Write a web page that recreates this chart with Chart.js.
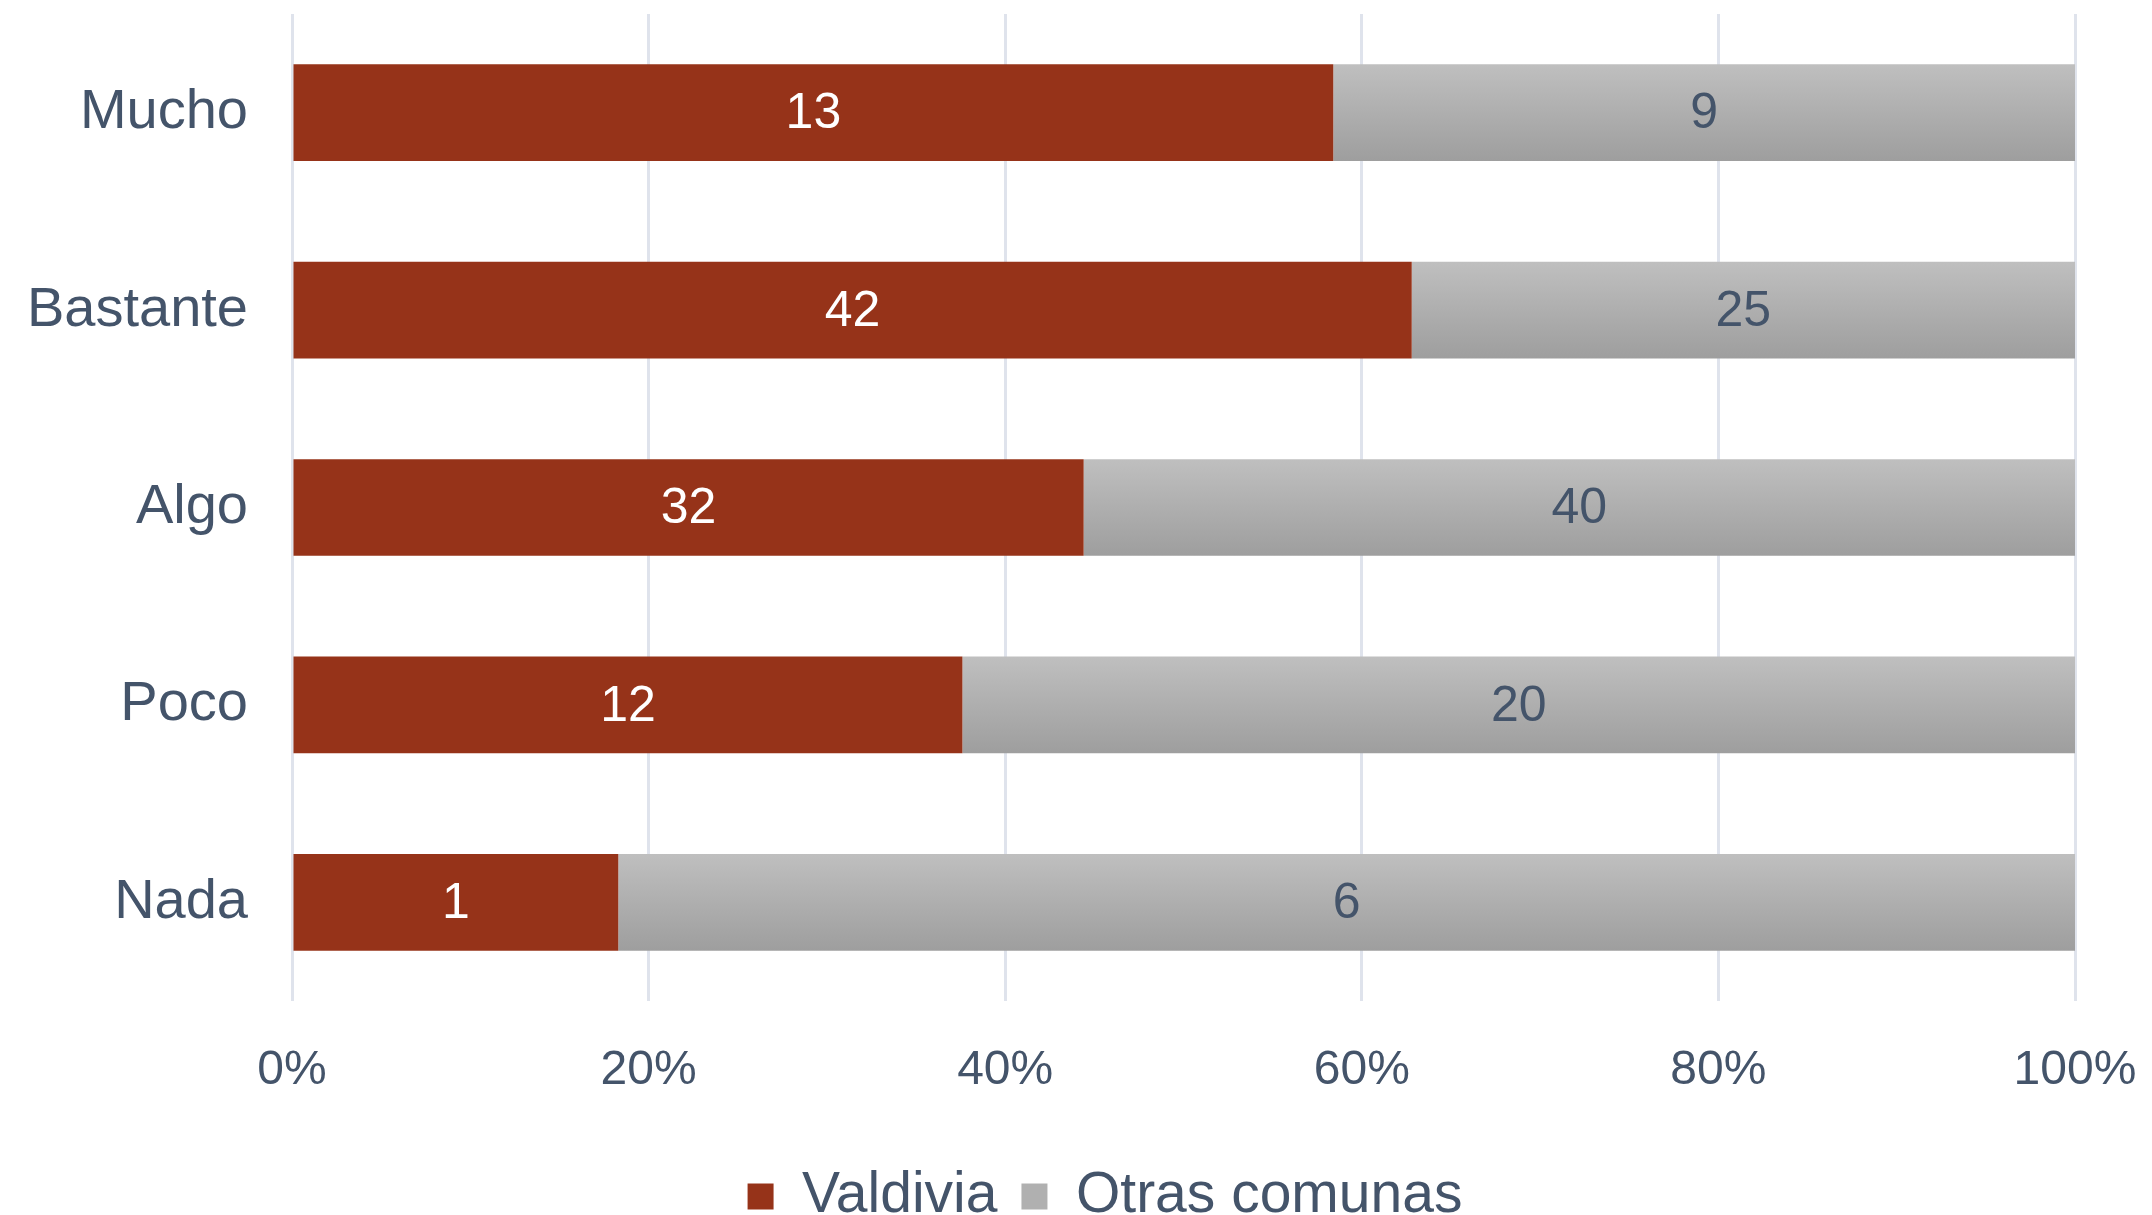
<!DOCTYPE html>
<html>
<head>
<meta charset="utf-8">
<script src="https://cdn.jsdelivr.net/npm/chart.js@4/dist/chart.umd.min.js"></script>
<style>
  html, body { margin:0; padding:0; background:#fff; }
  #wrap { width:2152px; height:1215px; }
</style>
</head>
<body>
<div id="wrap"><canvas id="c" width="2152" height="1215"></canvas></div>
<script>
// categories, top to bottom
const categories = ['Mucho','Bastante','Algo','Poco','Nada'];
// share of each bar (%)
const valdiviaPct = [58.4, 62.8, 44.4, 37.6, 18.3];
const otrasPct    = [41.6, 37.2, 55.6, 62.4, 81.7];
// counts printed inside the bars
const valdiviaN = [13, 42, 32, 12, 1];
const otrasN    = [9, 25, 40, 20, 6];
const xTicks = [0, 20, 40, 60, 80, 100];

const RED = '#963319';
const TXT = '#44546a';
const GRID = '#dfe3ec';
const FAM = "'Liberation Sans', Arial, sans-serif";

function greyGrad(c) {
  const chart = c.chart, ys = chart.scales.y;
  if (!ys || !chart.chartArea) return '#b0b0b0';
  const mid = ys.getPixelForValue(c.dataIndex);
  const half = (ys.height / categories.length) * 0.49 / 2;
  const g = chart.ctx.createLinearGradient(0, mid - half, 0, mid + half);
  g.addColorStop(0, '#bfbfbf');
  g.addColorStop(1, '#9e9e9e');
  return g;
}

// no extra room for tick labels, the layout is set by hand
function noPad(s) { s.paddingTop = s.paddingBottom = s.paddingLeft = s.paddingRight = 0; }

const barLabels = {
  id: 'barLabels',
  afterDatasetsDraw(chart) {
    const ctx = chart.ctx;
    const sets = [[valdiviaN, '#ffffff'], [otrasN, TXT]];
    ctx.save();
    ctx.font = `50px ${FAM}`;
    ctx.textAlign = 'center'; ctx.textBaseline = 'middle';
    chart.data.datasets.forEach((ds, di) => {
      chart.getDatasetMeta(di).data.forEach((el, i) => {
        const p = el.getCenterPoint();
        ctx.fillStyle = sets[di][1];
        ctx.fillText(String(sets[di][0][i]), p.x, p.y + 2);
      });
    });
    ctx.restore();
  }
};

// nudge the legend a bit right, like the original
const legendShift = {
  id: 'legendShift',
  afterLayout(chart) { if (chart.legend) chart.legend.left += 135; }
};

new Chart(document.getElementById('c'), {
  type: 'bar',
  data: {
    labels: categories,
    datasets: [
      { label: 'Valdivia', data: valdiviaPct, backgroundColor: RED, borderWidth: 0,
        categoryPercentage: 0.7, barPercentage: 0.7 },
      { label: 'Otras comunas', data: otrasPct, backgroundColor: greyGrad, borderWidth: 0,
        categoryPercentage: 0.7, barPercentage: 0.7 }
    ]
  },
  options: {
    indexAxis: 'y',
    responsive: false,
    animation: false,
    layout: { autoPadding: false, padding: { top: 14, right: 77, left: 0, bottom: -20 } },
    scales: {
      x: {
        stacked: true, min: 0, max: 100,
        afterBuildTicks(s) { s.ticks = xTicks.map(v => ({ value: v })); },
        afterFit(s) { s.height = 143; noPad(s); },
        grid: { color: GRID, lineWidth: 3, drawTicks: false },
        border: { display: false },
        ticks: { color: TXT, font: { family: FAM, size: 48 }, padding: 41, callback: v => v + '%' }
      },
      y: {
        stacked: true,
        afterFit(s) { s.width = 292; noPad(s); },
        grid: { display: false, drawTicks: false },
        border: { display: false },
        ticks: { color: TXT, font: { family: FAM, size: 56 }, padding: 44 }
      }
    },
    plugins: {
      legend: {
        position: 'bottom',
        labels: {
          color: TXT, font: { family: FAM, size: 57 }, boxWidth: 26, boxHeight: 26, padding: 24,
          generateLabels(chart) {
            return chart.data.datasets.map((ds, i) => ({
              text: ds.label, fillStyle: i === 0 ? RED : '#b0b0b0', strokeStyle: 'transparent',
              lineWidth: 0, fontColor: TXT, datasetIndex: i, hidden: false
            }));
          }
        }
      },
      tooltip: { enabled: false }
    }
  },
  plugins: [barLabels, legendShift]
});
</script>
</body>
</html>
